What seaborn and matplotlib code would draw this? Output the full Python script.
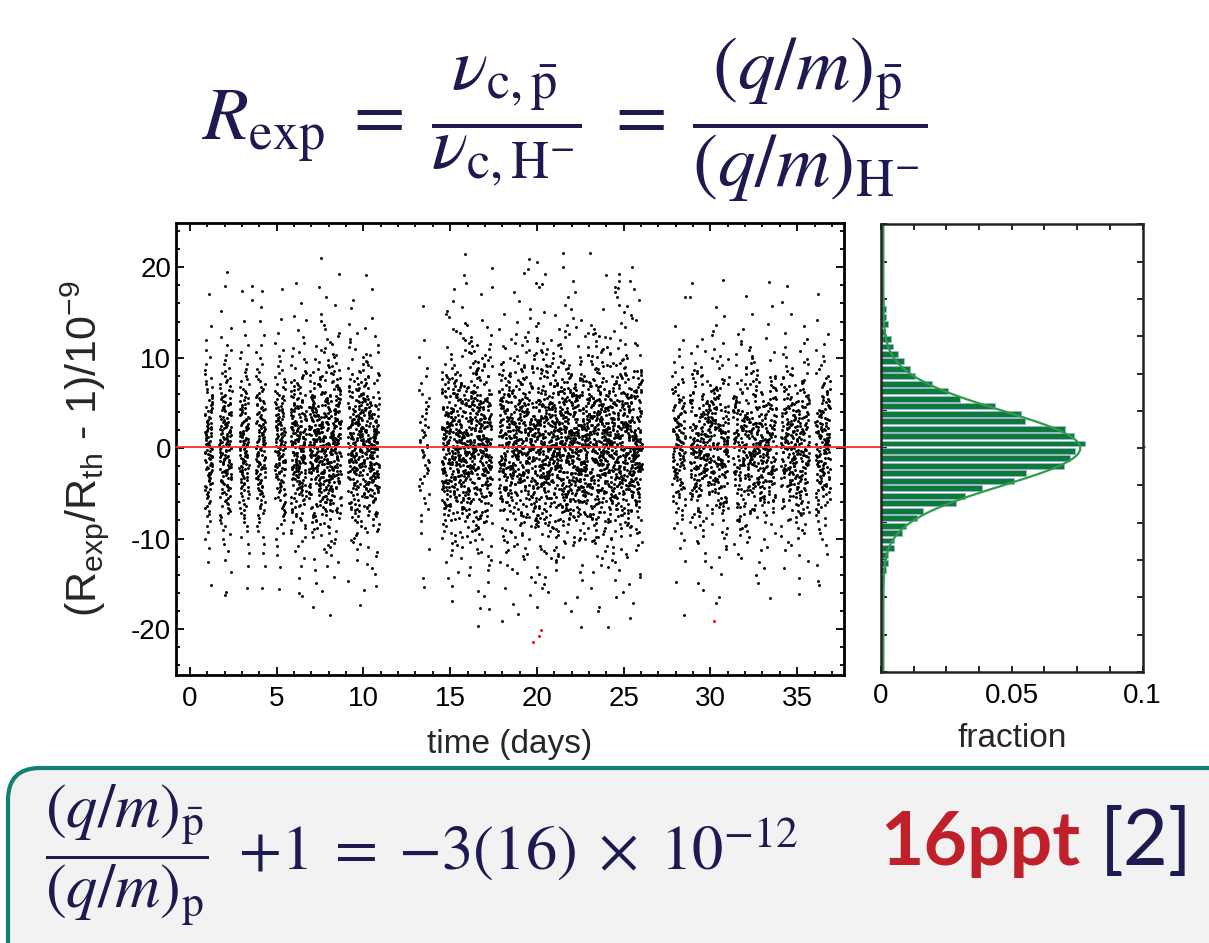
import numpy as np
import pandas as pd
import matplotlib
matplotlib.use("Agg")
import matplotlib.pyplot as plt
import seaborn as sns
from matplotlib.patches import FancyBboxPatch

# ---------------- data ----------------
# measurement sessions (days) and number of points in each
session_start = [0.85, 1.7, 2.85, 3.8, 4.9, 5.8, 6.85, 9.1, 13.2, 14.5, 17.8, 20.0, 23.0, 27.8, 28.8, 31.3, 34.05, 36.05]
session_end = [1.3, 2.4, 3.4, 4.35, 5.5, 6.7, 8.7, 10.9, 13.8, 17.4, 20.0, 23.0, 26.05, 28.55, 31.05, 33.8, 35.7, 36.9]
session_count = [110, 170, 130, 130, 140, 220, 480, 430, 50, 720, 500, 780, 780, 130, 400, 420, 300, 160]
session_spread = [1.2, 1.2, 1.2, 1.2, 1.2, 1.2, 1.2, 1.2, 1.3, 1.3, 1.3, 1.3, 1.3, 1.15, 1.15, 1.15, 1.15, 1.15]

# histogram (fraction per bin), bins listed from top (17.3) downward, bin width 0.8
hist_top_center = 17.3
hist_bin = 0.8
hist_fraction = [0.0004, 0.0006, 0.0011, 0.0018, 0.0018, 0.0026, 0.0015, 0.0038, 0.0047, 0.0064,
                 0.0088, 0.0110, 0.0130, 0.0194, 0.0256, 0.0303, 0.0437, 0.0536, 0.0552, 0.0705,
                 0.0737, 0.0779, 0.0743, 0.0721, 0.0701, 0.0554, 0.0510, 0.0388, 0.0322, 0.0286,
                 0.0162, 0.0139, 0.0095, 0.0082, 0.0051, 0.0050, 0.0028, 0.0028, 0.0019, 0.0011,
                 0.0006, 0.0004, 0.0003]

# gaussian fit parameters of the histogram
fit_amp, fit_mu, fit_sigma, fit_base = 0.0753, 0.0, 4.0, 0.0009
mean_value = 0.15

# isolated points far from the centre
outlier_t = [7.55, 2.13, 3.55, 3.55, 4.1, 6.0, 19.98, 19.5, 20.3, 23.98, 25.35, 25.6, 30.75, 17.4, 24.7, 25.2, 25.9,
             8.1, 2.05, 6.3, 25.35, 18.9, 16.7, 28.5, 30.35, 29.55, 23.55, 20.0, 36.2, 10.7, 13.5]
outlier_y = [21.05, 19.5, 17.95, 16.4, 15.6, 14.6, 20.6, 19.8, 18.2, 19.1, 18.5, 17.6, 18.6, 17.8, 17.7, 15.7, 16.4,
             -18.5, -16.3, -16.0, -18.8, -18.3, -17.7, -18.5, -17.1, -15.7, -17.6, -17.6, -14.7, -15.3, -15.4]
# rejected points (red)
flag_t = [19.75, 20.1, 20.25, 30.2]
flag_y = [-21.5, -20.8, -20.1, -19.1]

x_ticks = [0, 5, 10, 15, 20, 25, 30, 35]
y_ticks = [-20, -10, 0, 10, 20]
frac_ticks = [0, 0.05, 0.1]
frac_labels = ["0", "0.05", "0.1"]

# ---------------- build the point cloud from the histogram quantiles ----------------
centers = hist_top_center - hist_bin * np.arange(len(hist_fraction))
c_asc = centers[::-1]
f_asc = np.array(hist_fraction[::-1])
edges = np.concatenate([c_asc - hist_bin / 2, [c_asc[-1] + hist_bin / 2]])
cum = np.concatenate([[0], np.cumsum(f_asc)]) / f_asc.sum()


def mix(i):
    # deterministic integer hash used only to interleave the quantiles in time
    z = i.astype(np.uint64) + np.uint64(0x9E3779B97F4A7C15)
    z = (z ^ (z >> np.uint64(30))) * np.uint64(0xBF58476D1CE4E5B9)
    z = (z ^ (z >> np.uint64(27))) * np.uint64(0x94D049BB133111EB)
    return z ^ (z >> np.uint64(31))


ts, ys = [], []
idx = 0
for s, e, n, sp in zip(session_start, session_end, session_count, session_spread):
    k = np.arange(n)
    order = np.argsort(mix(np.arange(idx, idx + n)))
    idx += n
    q = np.interp((k + 0.5) / n, cum, edges) * sp
    ts.append(s + (e - s) * (k + 0.5) / n)
    ys.append(q[order])
ts.append(np.array(outlier_t))
ys.append(np.array(outlier_y))
df = pd.DataFrame({"t": np.concatenate(ts), "y": np.concatenate(ys)})
df_flag = pd.DataFrame({"t": flag_t, "y": flag_y})
df_hist = pd.DataFrame({"center": centers, "fraction": hist_fraction})

yy = np.linspace(-24, 24, 600)
df_fit = pd.DataFrame({"y": yy, "f": fit_base + fit_amp * np.exp(-(yy - fit_mu) ** 2 / (2 * fit_sigma ** 2))})

# ---------------- style ----------------
sns.set_style("ticks")
plt.rcParams["font.family"] = ["Liberation Sans", "DejaVu Sans"]
plt.rcParams["mathtext.fontset"] = "custom"
plt.rcParams["mathtext.rm"] = "Liberation Sans"
plt.rcParams["mathtext.it"] = "Liberation Sans:italic"
plt.rcParams["mathtext.bf"] = "Liberation Sans:bold"
plt.rcParams["axes.unicode_minus"] = False

navy = "#1c1a50"
fig = plt.figure(figsize=(12.09, 9.43), dpi=100)
fig.patch.set_facecolor("white")

ax = fig.add_axes([0.1456, 0.2842, 0.5525, 0.4793])
axh = fig.add_axes([0.7287, 0.2874, 0.2163, 0.4747])

# ---- main scatter ----
sns.scatterplot(data=df, x="t", y="y", s=4.5, color="black", linewidth=0, ax=ax, legend=False)
sns.scatterplot(data=df_flag, x="t", y="y", s=4.5, color="red", linewidth=0, ax=ax, legend=False)
ax.axhline(mean_value, xmin=0, xmax=1.4506, color="#ff2a2a", lw=1.3, clip_on=False, zorder=5)
ax.set_xlim(-0.8, 37.7)
ax.set_ylim(-25.1, 24.9)
ax.set_xticks(x_ticks)
ax.set_yticks(y_ticks)
ax.xaxis.set_minor_locator(matplotlib.ticker.MultipleLocator(1))
ax.yaxis.set_minor_locator(matplotlib.ticker.MultipleLocator(2))
ax.tick_params(which="both", direction="in", top=True, right=True, width=1.3, colors="black", labelsize=20)
ax.tick_params(which="major", length=6)
ax.tick_params(which="minor", length=3)
ax.tick_params(axis="x", pad=8)
for sp in ax.spines.values():
    sp.set_visible(True)
    sp.set_linewidth(2.0)
    sp.set_color("black")
ax.set_xlabel("time (days)", fontsize=24, labelpad=12)
ax.set_ylabel(r"(R$_{\rm exp}$/R$_{\rm th}$ - 1)/10$^{-9}$", fontsize=31, labelpad=14)

# ---- histogram ----
sns.barplot(data=df_hist, x="fraction", y="center", orient="h", native_scale=True, color="#0d7a3b",
            saturation=1, edgecolor="#9fb6d6", linewidth=0.6, width=0.8, errorbar=None, ax=axh)
sns.lineplot(data=df_fit, x="f", y="y", orient="y", color="#2e9c4c", lw=1.6, ax=axh)
axh.set_xlim(0, 0.1)
axh.set_ylim(-24, 24)
axh.set_xticks(frac_ticks)
axh.set_xticklabels(frac_labels)
axh.xaxis.set_minor_locator(matplotlib.ticker.MultipleLocator(0.0125))
axh.set_yticks(np.arange(-24, 25, 4))
axh.set_yticklabels([])
axh.tick_params(which="both", direction="in", top=True, right=True, width=1.2, length=4, colors="black", labelsize=20)
axh.tick_params(axis="x", pad=8)
for sp in axh.spines.values():
    sp.set_visible(True)
    sp.set_linewidth(1.8)
    sp.set_color("#222222")
axh.set_xlabel("fraction", fontsize=24, labelpad=10)
axh.set_ylabel("")

# ---- equations ----
fig.text(0.467, 0.8727,
         r"$R_{\mathrm{exp}}\;=\;\dfrac{\nu_{\mathrm{c},\bar{\mathrm{p}}}}{\nu_{\mathrm{c,H}^{-}}}\;=\;\dfrac{(q/m)_{\bar{\mathrm{p}}}}{(q/m)_{\mathrm{H}^{-}}}$",
         ha="center", va="center", fontsize=54, color=navy, math_fontfamily="stix")

box = FancyBboxPatch((0.08, -0.6), 12.8, 2.35, boxstyle="round,pad=0,rounding_size=0.32",
                     transform=fig.dpi_scale_trans, facecolor="#f2f2f2", edgecolor="#12806f", lw=3.0, zorder=0)
fig.add_artist(box)
fig.text(0.037, 0.093,
         r"$\dfrac{(q/m)_{\bar{\mathrm{p}}}}{(q/m)_{\mathrm{p}}}\;\;{+1}\;=\;{-3}(16)\;\times\;10^{-12}$",
         ha="left", va="center", fontsize=45, color=navy, math_fontfamily="stix", zorder=2)
fig.text(0.728, 0.0827, "16ppt", ha="left", va="baseline", fontsize=54, fontweight="bold",
         color="#c0202a", family=["Lato", "DejaVu Sans"], zorder=2)
fig.text(0.91, 0.0827, "[2]", ha="left", va="baseline", fontsize=56,
         color=navy, family=["Lato", "DejaVu Sans"], zorder=2)

fig.savefig("out.png", dpi=100)
